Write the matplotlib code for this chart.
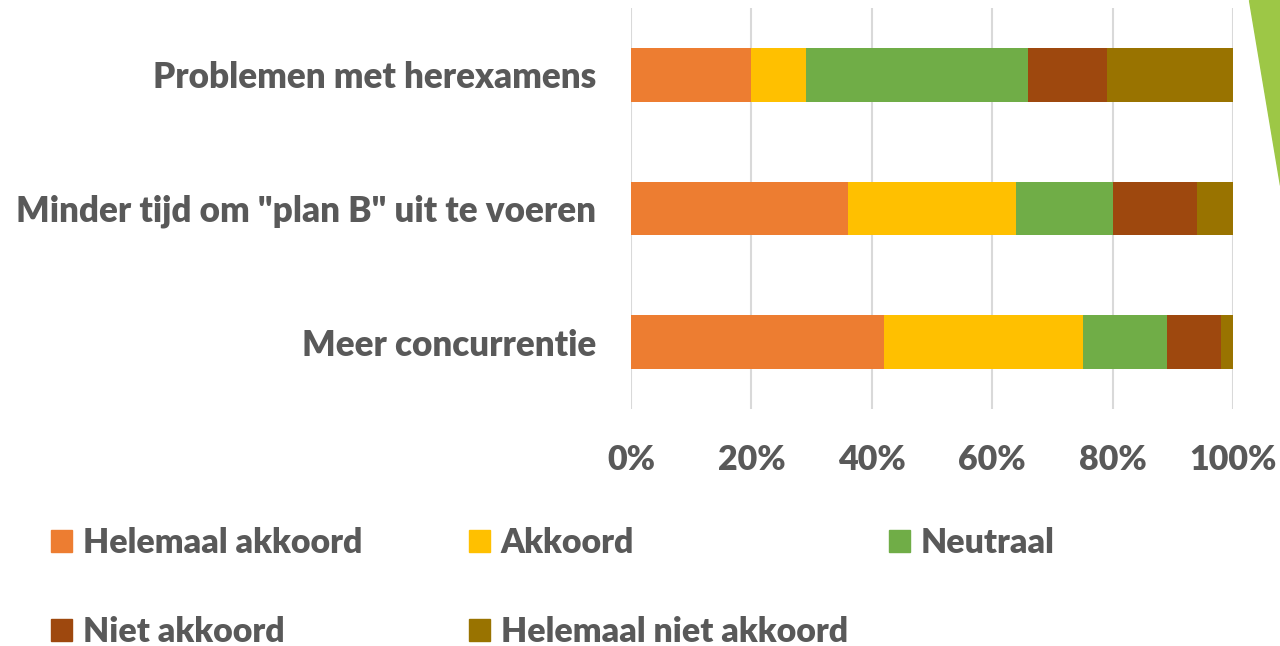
import matplotlib.pyplot as plt
from matplotlib.patches import Patch, Polygon

# categories (bottom to top)
categories = ['Meer concurrentie', 'Minder tijd om "plan B" uit te voeren', 'Problemen met herexamens']
series = ['Helemaal akkoord', 'Akkoord', 'Neutraal', 'Niet akkoord', 'Helemaal niet akkoord']
colors = ['#ED7D31', '#FFC000', '#70AD47', '#9E480E', '#997300']

# percentages per series, same order as categories
helemaal_akkoord = [42, 36, 20]
akkoord = [33, 28, 9]
neutraal = [14, 16, 37]
niet_akkoord = [9, 14, 13]
helemaal_niet = [2, 6, 21]
values = [helemaal_akkoord, akkoord, neutraal, niet_akkoord, helemaal_niet]

xticks = [0, 20, 40, 60, 80, 100]
txt = '#595959'
plt.rcParams['font.family'] = ['Lato', 'DejaVu Sans']

fig = plt.figure(figsize=(12.8, 6.46), dpi=100)
ax = fig.add_axes([631/1280, 1 - 409/646, 602/1280, 401/646])

left = [0, 0, 0]
for name, vals, c in zip(series, values, colors):
    ax.barh(categories, vals, left=left, height=0.4, color=c, label=name, zorder=3)
    left = [l + v for l, v in zip(left, vals)]

ax.set_xlim(0, 100)
ax.set_ylim(-0.5, 2.5)
ax.set_xticks(xticks)
ax.set_xticklabels([f'{t}%' for t in xticks])
for s in ax.spines.values():
    s.set_visible(False)
ax.grid(axis='x', color='#D9D9D9', linewidth=1.5, zorder=0)
ax.tick_params(length=0, labelcolor=txt)
ax.tick_params(axis='y', pad=25, labelsize=25.2)
ax.tick_params(axis='x', pad=25, labelsize=24.5)
for lab in ax.get_xticklabels() + ax.get_yticklabels():
    lab.set_fontweight('heavy')

# legend, three columns placed separately
handles = [Patch(color=c) for c in colors]
cols = [(51, [0, 3]), (469, [1, 4]), (889, [2])]
for x, idx in cols:
    lg = fig.legend([handles[i] for i in idx], [series[i] for i in idx],
                    loc='upper left', bbox_to_anchor=(x / 1280, 1 - 527/646),
                    borderaxespad=0, borderpad=0,
                    frameon=False, handlelength=0.62, handleheight=0.62, handletextpad=0.32,
                    labelspacing=1.69, prop={'size': 24.4, 'weight': 'heavy'})
    for t in lg.get_texts():
        t.set_color(txt)

# green decoration top right
fig.patches.append(Polygon([(1249/1280, 1), (1, 1), (1, 1 - 185/646)], closed=True,
                           transform=fig.transFigure, color='#9DC746', zorder=5))

fig.savefig('out.png', dpi=100)
